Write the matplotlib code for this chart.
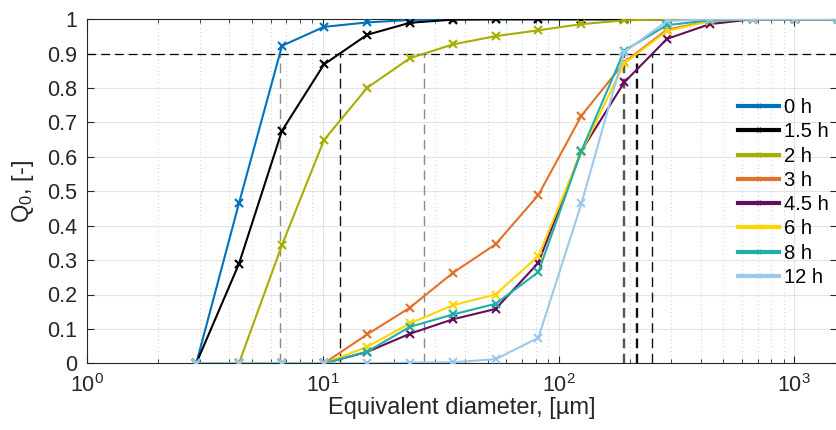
import numpy as np
import matplotlib
matplotlib.use("Agg")
import matplotlib.pyplot as plt

plt.rcParams['font.family'] = ['Liberation Sans', 'DejaVu Sans']
plt.rcParams['mathtext.fontset'] = 'custom'
plt.rcParams['mathtext.rm'] = 'Liberation Sans'
plt.rcParams['mathtext.it'] = 'Liberation Sans'

diameter = [2.9, 4.4, 6.7, 10.1, 15.4, 23.4, 35.6, 54, 82, 125, 190, 288, 438, 665, 1010, 1530]

labels = ['0 h', '1.5 h', '2 h', '3 h', '4.5 h', '6 h', '8 h', '12 h']

q_0h   = [0, 0.465, 0.923, 0.978, 0.991, 0.998, 1, 1, 1, 1, 1, 1, 1, 1, 1, 1]
q_1_5h = [0, 0.289, 0.676, 0.869, 0.955, 0.990, 0.999, 1, 1, 1, 1, 1, 1, 1, 1, 1]
q_2h   = [0, 0, 0.344, 0.649, 0.801, 0.887, 0.927, 0.951, 0.968, 0.986, 0.997, 1, 1, 1, 1, 1]
q_3h   = [0, 0, 0, 0, 0.084, 0.162, 0.263, 0.346, 0.489, 0.720, 0.875, 0.970, 0.995, 1, 1, 1]
q_4_5h = [0, 0, 0, 0, 0.033, 0.086, 0.128, 0.158, 0.292, 0.618, 0.817, 0.943, 0.986, 1, 1, 1]
q_6h   = [0, 0, 0, 0, 0.048, 0.116, 0.169, 0.200, 0.312, 0.615, 0.872, 0.966, 0.995, 1, 1, 1]
q_8h   = [0, 0, 0, 0, 0.034, 0.106, 0.142, 0.173, 0.265, 0.618, 0.909, 0.983, 0.997, 1, 1, 1]
q_12h  = [0, 0, 0, 0, 0, 0.002, 0.003, 0.012, 0.074, 0.465, 0.905, 0.995, 1, 1, 1, 1]

series = [q_0h, q_1_5h, q_2h, q_3h, q_4_5h, q_6h, q_8h, q_12h]
colors = ['#0072BD', '#000000', '#A8AD00', '#E2712A', '#660E5C', '#FFD500', '#1EAFA6', '#9CC8EC']
vcolors = ['#8a8a8a', '#111111', '#8a8a8a', '#111111', '#111111', '#111111', '#555555', '#555555']

level = 0.9

fig = plt.figure(figsize=(8.36, 4.30), dpi=100)
ax = fig.add_axes([87.3/836, 1-363.3/430, (836.5-87.3)/836, (363.3-19.3)/430])

ax.set_xscale('log')
ax.set_xlim(1, 1510)
ax.set_ylim(0, 1)

ax.grid(which='major', color='#e3e3e3', lw=0.8, zorder=0)
ax.grid(which='minor', axis='x', color='#cfcfcf', lw=0.7, ls=(0, (1, 3)), zorder=0)
ax.set_axisbelow(True)

ax.axhline(level, color='k', lw=0.9, dashes=(7, 4), zorder=1)
logx = np.log10(np.array(diameter))
for ys, vc in zip(series, vcolors):
    ys = np.array(ys)
    i = int(np.argmax(ys >= level))
    f = (level - ys[i-1]) / (ys[i] - ys[i-1])
    d90 = 10 ** (logx[i-1] + f * (logx[i] - logx[i-1]))
    ax.plot([d90, d90], [0, level], color=vc, lw=1.0, dashes=(7, 4), zorder=1)

for ys, c, lab in zip(series, colors, labels):
    ax.plot(diameter, ys, color=c, lw=1.5, marker='x', ms=5.5, mew=1.5, label=lab, zorder=3)

ax.set_yticks(np.arange(0, 1.01, 0.1))
ax.set_yticklabels(['0', '0.1', '0.2', '0.3', '0.4', '0.5', '0.6', '0.7', '0.8', '0.9', '1'])
ax.tick_params(which='both', direction='in', top=True, right=True, colors='#262626', labelsize=15.5)
ax.tick_params(which='major', length=5, width=0.8)
ax.tick_params(which='minor', length=3, width=0.6)
ax.tick_params(axis='x', which='major', pad=8)
ax.tick_params(axis='y', which='major', pad=7)
for s in ax.spines.values():
    s.set_color('#262626')
    s.set_linewidth(0.8)

ax.set_xlabel('Equivalent diameter, [µm]', fontsize=17, color='#262626', labelpad=0)
ax.set_ylabel('Q$_0$, [-]', fontsize=17, color='#262626', labelpad=8)

leg = ax.legend(loc='upper left', bbox_to_anchor=(0.855, 0.80), frameon=False, fontsize=14.5,
                handlelength=2.05, handletextpad=0.25, labelspacing=0.26, borderpad=0)
for h in leg.legend_handles:
    h.set_linewidth(3)
    h.set_markersize(3)

fig.savefig('out.png', dpi=100)
